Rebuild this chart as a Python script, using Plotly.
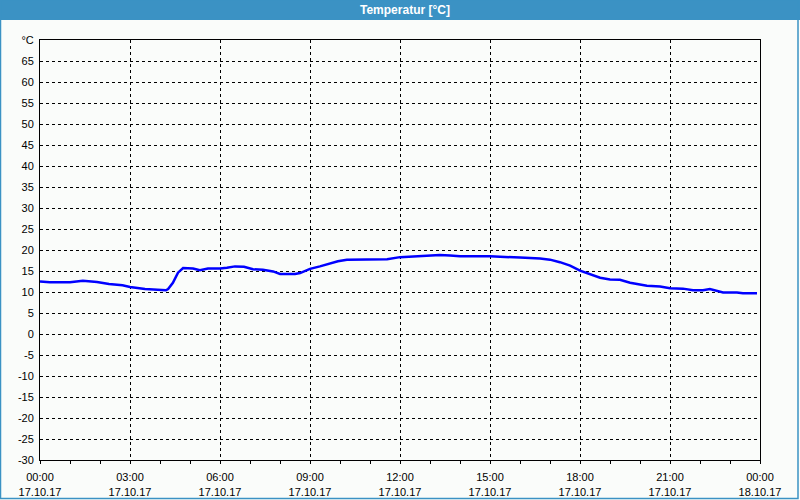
import plotly.graph_objects as go
from datetime import datetime, timedelta

# Data: hours since 17.10.17 00:00 and temperature in °C
hours = [0, 0.33, 1.0, 1.43, 1.9, 2.3, 2.75, 3.0, 3.5, 4.0, 4.2, 4.27, 4.43, 4.6, 4.77,
         5.1, 5.33, 5.6, 6.0, 6.23, 6.5, 6.8, 7.1, 7.43, 7.77, 8.0, 8.5, 8.67, 9.0, 9.33,
         9.67, 9.93, 10.23, 11.57, 12.0, 12.67, 13.33, 13.67, 14.0, 15.0, 15.77, 16.0,
         16.67, 17.0, 17.33, 17.67, 18.0, 18.33, 18.67, 19.0, 19.33, 19.67, 20.23, 20.67,
         21.0, 21.43, 21.77, 22.1, 22.33, 22.77, 23.23, 23.43, 23.9]
temps = [12.5, 12.3, 12.3, 12.7, 12.4, 11.9, 11.6, 11.2, 10.7, 10.4, 10.4, 10.7, 12.2, 14.6, 15.7,
         15.6, 15.2, 15.6, 15.6, 15.8, 16.1, 16.0, 15.4, 15.3, 14.9, 14.3, 14.3, 14.5, 15.5, 16.1,
         16.8, 17.3, 17.7, 17.8, 18.3, 18.5, 18.8, 18.7, 18.5, 18.5, 18.4, 18.2,
         18.0, 17.7, 17.1, 16.3, 15.1, 14.2, 13.4, 13.0, 12.9, 12.2, 11.5, 11.3,
         10.9, 10.8, 10.4, 10.4, 10.7, 9.9, 9.9, 9.7, 9.7]
title_text = "Temperatur [°C]"
y_ticks = list(range(-30, 70, 5)) + [70]
y_labels = [str(v) for v in range(-30, 70, 5)] + ["°C"]

start = datetime(2017, 10, 17)
times = [start + timedelta(hours=h) for h in hours]

fig = go.Figure()
fig.add_trace(go.Scatter(x=times, y=temps, mode="lines",
                         line=dict(color="#0000ff", width=2.5), hoverinfo="skip"))

axis_font = dict(family="Liberation Sans, Arial, sans-serif", size=11, color="#000000")

fig.update_layout(
    width=800, height=500,
    margin=dict(l=40, r=40, t=40, b=40),
    paper_bgcolor="#fafcfa", plot_bgcolor="#fafcfa",
    showlegend=False,
    xaxis=dict(
        type="date", automargin=False,
        range=[start, start + timedelta(hours=24)],
        dtick=3 * 3600000, tick0=start,
        tickformat="%H:%M<br>%d.%m.%y",
        ticks="outside", ticklen=3, tickcolor="#000", tickwidth=1,
        minor=dict(dtick=3600000, ticks="outside", ticklen=3, tickcolor="#000", showgrid=False),
        showgrid=True, gridcolor="#000000", gridwidth=1, griddash="3px,3px",
        showline=True, linecolor="#000000", linewidth=1, mirror=True,
        tickfont=axis_font, zeroline=False, fixedrange=True, ticklabelstandoff=4,
    ),
    yaxis=dict(
        range=[-30, 70], automargin=False,
        tickvals=y_ticks, ticktext=y_labels,
        ticks="", ticklabelstandoff=3,
        showgrid=True, gridcolor="#000000", gridwidth=1, griddash="3px,3px",
        showline=True, linecolor="#000000", linewidth=1, mirror=True,
        tickfont=axis_font, zeroline=False, fixedrange=True,
    ),
    shapes=[
        dict(type="rect", xref="paper", yref="paper", x0=-0.06, x1=1.06,
             y0=1 + 20 / 420, y1=1 + 41 / 420, fillcolor="#3b92c4", line=dict(width=0), layer="above"),
        dict(type="rect", xref="paper", yref="paper", x0=-39.5 / 720, x1=1 + 38 / 720,
             y0=-38.5 / 420, y1=1 + 40 / 420, fillcolor="rgba(0,0,0,0)",
             line=dict(color="#3b92c4", width=1.5), layer="above"),
    ],
    annotations=[
        dict(text="<b>" + title_text + "</b>", xref="paper", yref="paper",
             x=(405 - 40) / 720, y=1 + 30 / 420, showarrow=False,
             font=dict(family="Liberation Sans, Arial, sans-serif", size=12, color="#ffffff"),
             xanchor="center", yanchor="middle"),
    ],
)

fig.write_html("out.html")
